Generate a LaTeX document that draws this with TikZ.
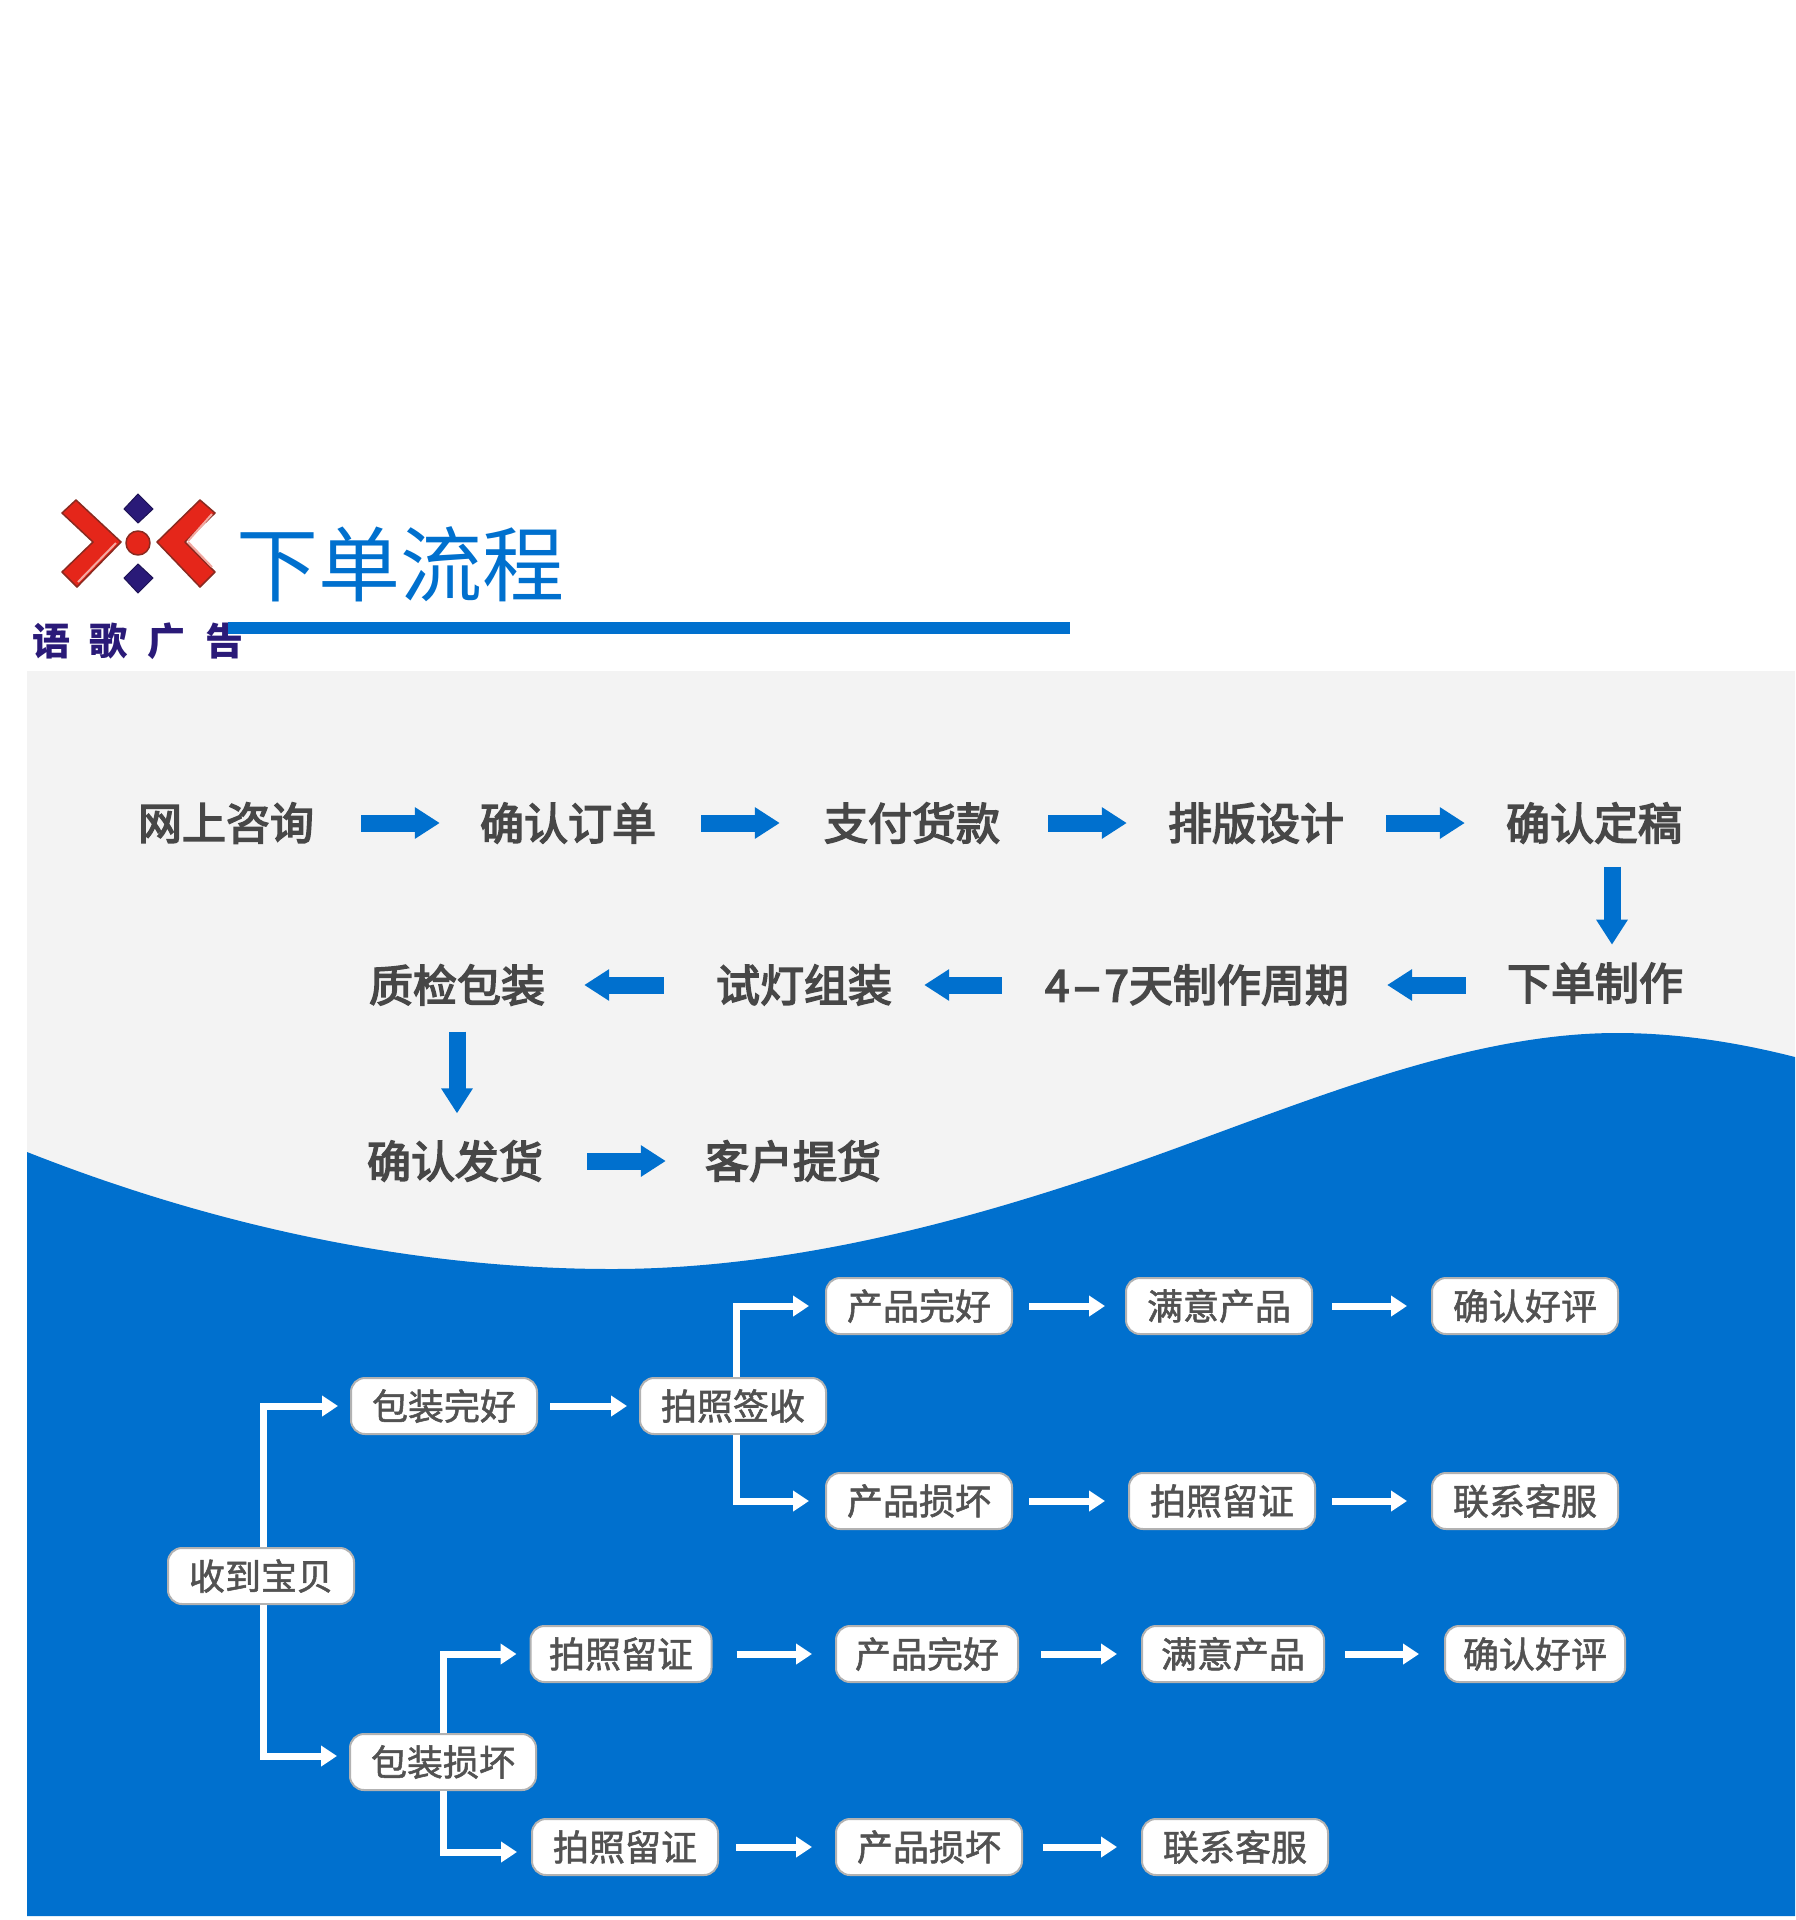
\documentclass[tikz,border=0pt]{standalone}
\usepackage{fontspec}
\setmainfont{Noto Sans CJK SC}
\newfontfamily\stagefont[FakeBold=3.5]{Noto Sans CJK SC}
\newfontfamily\boxfont[FakeBold=1.5]{Noto Sans CJK SC}
\usetikzlibrary{arrows.meta, positioning}
\definecolor{wave}{HTML}{0070CE}
\definecolor{panel}{HTML}{F3F3F3}
\definecolor{logored}{HTML}{E5261A}
\definecolor{logoedge}{HTML}{8A2A20}
\definecolor{logopale}{HTML}{F4A8A0}
\definecolor{logoblue}{HTML}{2A1A78}
\begin{document}
\begin{tikzpicture}[
    x=1pt, y=-1pt,
    stage/.style={font=\fontsize{44}{50}\selectfont\stagefont, text=black!72, inner sep=0pt},
    box/.style={draw=black!30, line width=2pt, fill=white, rounded corners=14pt, align=center, minimum width=186pt, minimum height=56pt, inner sep=0pt, font=\fontsize{36}{42}\selectfont\boxfont, text=black!68},
    bigarr/.style={-{Triangle[length=25pt,width=30pt]}, line width=17pt, draw=wave},
    arr/.style={-{Triangle[length=16pt,width=20pt]}, line width=7pt, draw=white},
    chevron/.style={fill=logored, draw=logoedge, line width=1.5pt, line join=round},
    gem/.style={fill=logoblue, draw=logoblue!70!black, line width=1pt}
]
\useasboundingbox (0,0) rectangle (1796,1920);
\fill[panel] (27,671) rectangle (1795,1916);
\fill[wave] (27,1152) .. controls (250,1240) and (450,1269) .. (612,1269)
    .. controls (800,1269) and (980,1215) .. (1100,1175)
    .. controls (1270,1118) and (1450,1033) .. (1617,1033)
    .. controls (1680,1033) and (1740,1043) .. (1795,1057)
    -- (1795,1916) -- (27,1916) -- cycle;

\draw[chevron] (76,500) -- (121,542) -- (77,587) -- (62,572) -- (93,542) -- (62,513) -- cycle;
\draw[chevron] (200,500) -- (215,513) -- (185,542) -- (215,572) -- (200,587) -- (157,542) -- cycle;
\draw[logopale, line width=2pt] (116,543) -- (78,582);
\draw[logopale, line width=2pt] (188,542) -- (212,567);
\draw[logopale, line width=2pt] (188,541) -- (212,514);
\draw[gem] (138,494) -- (153,509) -- (138,523) -- (124,509) -- cycle;
\draw[gem] (138,564) -- (153,578) -- (138,593) -- (124,578) -- cycle;
\draw[chevron] (138,543) circle (12pt);

\node[font=\fontsize{82}{90}\selectfont, text=wave, inner sep=0pt] (title) at (400,564) {下单流程};
\node[font=\fontsize{38}{44}\selectfont\bfseries, text=logoblue, inner sep=0pt] (brand) at (138,641) {语\hspace{20pt}歌\hspace{20pt}广\hspace{20pt}告};
\fill[wave] (228,622) rectangle (1070,634);

\node[stage] (ask)    at (226,823) {网上咨询};
\node[stage] (order)  at (568,823) {确认订单};
\node[stage] (pay)    at (912,823) {支付货款};
\node[stage] (layout) at (1256,823) {排版设计};
\node[stage] (proof)  at (1594,823) {确认定稿};
\node[stage] (make)   at (1595,983) {下单制作};
\node[stage] (cycle)  at (1197,985) {4\kern3pt\scalebox{1.9}[1]{-}\kern3pt7天制作周期};
\node[stage] (lamp)   at (804,985) {试灯组装};
\node[stage] (check)  at (457,985) {质检包装};
\node[stage] (ship)   at (455,1161) {确认发货};
\node[stage] (pick)   at (793,1161) {客户提货};

\draw[bigarr, shorten <=47pt, shorten >=40pt] (ask) -- (order);
\draw[bigarr, shorten <=45pt, shorten >=44pt] (order) -- (pay);
\draw[bigarr, shorten <=48pt, shorten >=41pt] (pay) -- (layout);
\draw[bigarr, shorten <=42pt, shorten >=41pt] (layout) -- (proof);
\draw[bigarr, shorten <=41pt, shorten >=38pt] (cycle.east -| make.west) -- (cycle.east);
\draw[bigarr, shorten <=43pt, shorten >=32pt] (cycle) -- (lamp);
\draw[bigarr, shorten <=52pt, shorten >=39pt] (lamp) -- (check);
\draw[bigarr, shorten <=23pt, shorten >=18pt] ([xshift=18pt]proof.south) -- ([xshift=17pt]make.north);
\draw[bigarr, shorten <=26pt, shorten >=27pt] (check.south) -- (ship.north -| check.south);
\draw[bigarr, shorten <=44pt, shorten >=39pt] (ship) -- (pick);

\node[box] (root) at (261,1576) {收到宝贝};
\node[box] (good) at (444,1406) {包装完好};
\node[box] (sign) at (733,1406) {拍照签收};
\node[box] (bad)  at (443,1762) {包装损坏};
\node[box, minimum width=181pt] (snapa) at (621,1654) {拍照留证};
\node[box] (snapb) at (625,1847) {拍照留证};

\node[box] (fineup)  at (919,1306) {产品完好};
\node[box] (happyup) at (1219,1306) {满意产品};
\node[box] (rateup)  at (1525,1306) {确认好评};
\node[box] (brokeup) at (919,1501) {产品损坏};
\node[box] (snapup)  at (1222,1501) {拍照留证};
\node[box] (callup)  at (1525,1501) {联系客服};
\node[box, minimum width=182pt] (finelow)  at (927,1654) {产品完好};
\node[box, minimum width=182pt] (happylow) at (1233,1654) {满意产品};
\node[box, minimum width=180pt] (ratelow)  at (1535,1654) {确认好评};
\node[box] (brokelow) at (929,1847) {产品损坏};
\node[box] (calllow)  at (1235,1847) {联系客服};

\draw[arr, shorten >=12pt] ([xshift=2pt]root.north) |- (good.west);
\draw[arr, shorten >=12pt] ([xshift=2pt]root.south) |- ([yshift=6pt]bad.west);
\draw[arr, shorten <=12pt, shorten >=12pt] (good) -- (sign);
\draw[arr, shorten >=16pt] ([xshift=3pt]sign.north) |- (fineup.west);
\draw[arr, shorten >=16pt] ([xshift=3pt]sign.south) |- (brokeup.west);
\draw[arr, shorten >=13pt] (bad.north) |- (snapa.west);
\draw[arr, shorten >=14pt] (bad.south) |- ([yshift=-5pt]snapb.west);
\draw[arr, shorten <=24pt, shorten >=23pt] (snapa) -- (finelow);
\draw[arr, shorten <=17pt, shorten >=23pt] (snapb) -- (brokelow);
\draw[arr, shorten <=16pt, shorten >=20pt] (fineup) -- (happyup);
\draw[arr, shorten <=19pt, shorten >=24pt] (happyup) -- (rateup);
\draw[arr, shorten <=16pt, shorten >=23pt] (brokeup) -- (snapup);
\draw[arr, shorten <=16pt, shorten >=24pt] (snapup) -- (callup);
\draw[arr, shorten <=22pt, shorten >=24pt] (finelow) -- (happylow);
\draw[arr, shorten <=20pt, shorten >=25pt] (happylow) -- (ratelow);
\draw[arr, shorten <=20pt, shorten >=24pt] (brokelow) -- (calllow);
\end{tikzpicture}
\end{document}
